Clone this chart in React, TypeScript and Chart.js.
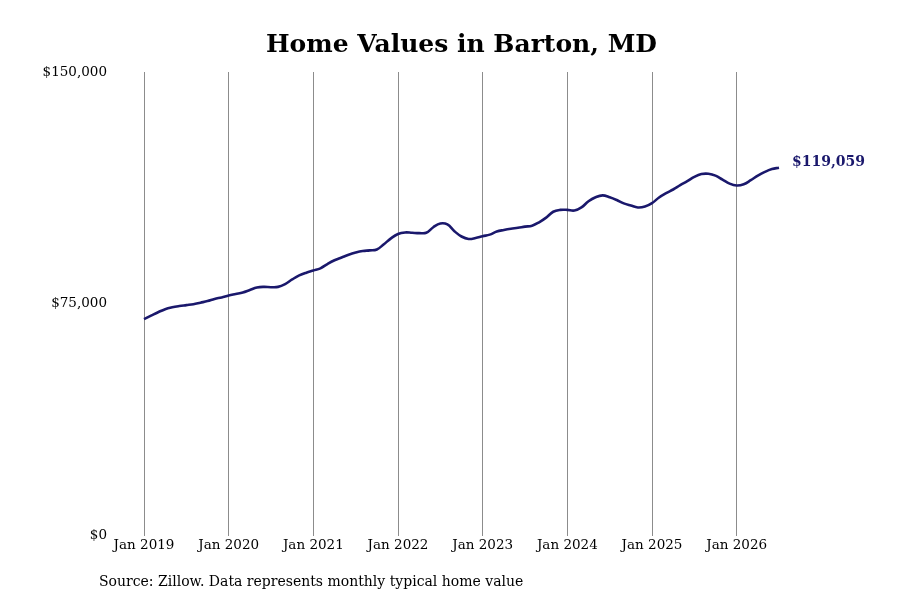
import React, { useRef, useEffect } from "react";
import { Chart, registerables, Plugin } from "chart.js";

Chart.register(...registerables);

const FONT = "'DejaVu Serif', serif";
const LINE_COLOR = "#1a186c";

const monthNames = ["Jan", "Feb", "Mar", "Apr", "May", "Jun", "Jul", "Aug", "Sep", "Oct", "Nov", "Dec"];
const years = [2019, 2020, 2021, 2022, 2023, 2024, 2025, 2026];

// typical home value, monthly (in dollars)
const values2019 = [70100, 71200, 72300, 73300, 73900, 74300, 74600, 74900, 75400, 75900, 76600, 77100];
const values2020 = [77700, 78200, 78700, 79500, 80300, 80500, 80400, 80500, 81400, 82900, 84200, 85100];
const values2021 = [85800, 86500, 87900, 89100, 90000, 90900, 91600, 92100, 92300, 92600, 94300, 96200];
const values2022 = [97600, 98100, 98000, 97900, 98000, 99800, 101000, 100700, 98500, 96800, 96000, 96300];
const values2023 = [96900, 97400, 98400, 98900, 99300, 99600, 100000, 100300, 101400, 102900, 104800, 105400];
const values2024 = [105400, 105200, 106200, 108200, 109500, 110100, 109500, 108600, 107500, 106800, 106200, 106500];
const values2025 = [107600, 109400, 110800, 112000, 113400, 114700, 116100, 117000, 117100, 116500, 115200, 113900];
const values2026 = [113300, 113700, 115000, 116500, 117700, 118600, 119059];

const values = [
  ...values2019, ...values2020, ...values2021, ...values2022,
  ...values2023, ...values2024, ...values2025, ...values2026,
];

const labels = years.flatMap((y) => monthNames.map((m) => `${m} ${y}`)).slice(0, values.length);

const yTicks = [0, 75000, 150000];

const title = "Home Values in Barton, MD";
const source = "Source: Zillow. Data represents monthly typical home value";

const money = (v: number) => "$" + v.toLocaleString("en-US");

// title centred on the plot, end-of-line value label and source note
const annotations: Plugin<"line"> = {
  id: "annotations",
  afterDraw(chart) {
    const { ctx, chartArea } = chart;
    const meta = chart.getDatasetMeta(0);
    const last = meta.data[meta.data.length - 1];
    ctx.save();
    ctx.textBaseline = "middle";

    ctx.font = `bold 25px ${FONT}`;
    ctx.fillStyle = "#000";
    ctx.textAlign = "center";
    ctx.fillText(title, (chartArea.left + chartArea.right) / 2, 45);

    ctx.font = `bold 14px ${FONT}`;
    ctx.fillStyle = LINE_COLOR;
    ctx.textAlign = "left";
    ctx.fillText(money(values[values.length - 1]), last.x + 13, last.y - 5);

    ctx.font = `14px ${FONT}`;
    ctx.fillStyle = "#000";
    ctx.fillText(source, 99, 582);
    ctx.restore();
  },
};

const App: React.FC = () => {
  const chartRef = useRef<HTMLCanvasElement | null>(null);

  useEffect(() => {
    if (!chartRef.current) return;
    const chartInstance = new Chart(chartRef.current, {
      type: "line",
      data: {
        labels,
        datasets: [
          {
            data: values,
            borderColor: LINE_COLOR,
            borderWidth: 2.6,
            pointRadius: 0,
            tension: 0.4,
            fill: false,
          },
        ],
      },
      options: {
        responsive: true,
        maintainAspectRatio: false,
        animation: false,
        layout: { padding: { top: 72, left: 42, right: 121, bottom: 44 } },
        plugins: {
          legend: { display: false },
          tooltip: { enabled: false },
        },
        scales: {
          x: {
            type: "category",
            offset: false,
            border: { display: false },
            grid: {
              drawTicks: false,
              color: (c) => (labels[c.index]?.startsWith("Jan") ? "#8c8c8c" : "rgba(0,0,0,0)"),
              lineWidth: 1,
            },
            ticks: {
              autoSkip: false,
              maxRotation: 0,
              padding: 2,
              color: "#000",
              font: { family: FONT, size: 13.5 },
              callback: (_v, i) => (labels[i].startsWith("Jan") ? labels[i] : ""),
            },
          },
          y: {
            min: 0,
            max: 150000,
            border: { display: false },
            grid: { display: false, drawTicks: false },
            afterBuildTicks: (axis) => {
              axis.ticks = yTicks.map((v) => ({ value: v }));
            },
            afterFit: (axis) => {
              axis.width = 102;
            },
            ticks: {
              padding: 37,
              color: "#000",
              font: { family: FONT, size: 13.5 },
              callback: (v) => money(Number(v)),
            },
          },
        },
      },
      plugins: [annotations],
    });

    return () => {
      chartInstance.destroy();
    };
  }, []);

  return (
    <div style={{ position: "fixed", left: 0, top: 0, width: 900, height: 600, background: "#fff" }}>
      <canvas ref={chartRef} />
    </div>
  );
};

export default App;
